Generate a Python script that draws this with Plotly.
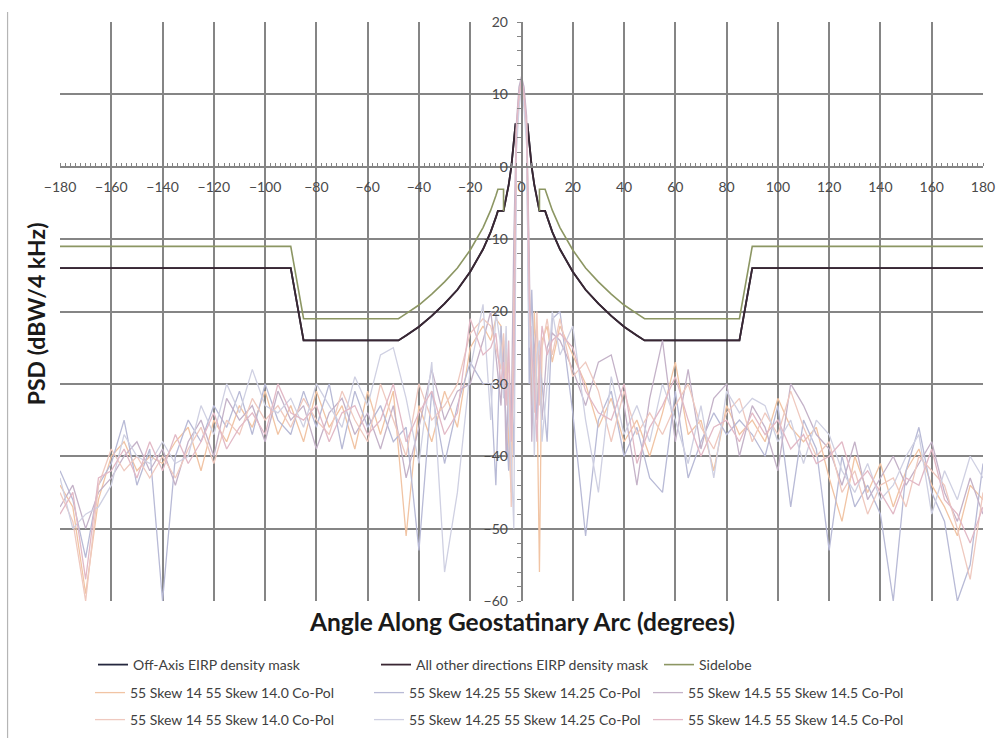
import plotly.graph_objects as go

# Angle grid (degrees along the geostationary arc) shared by the measured patterns
ANGLE = [-180, -175, -170, -165, -160, -155, -150, -145, -140, -135, -130, -125,
         -120, -115, -110, -105, -100, -95, -90, -85, -80, -75, -70, -65, -60,
         -55, -50, -45, -40, -35, -30, -25, -20, -15,
         -12, -10, -8, -7, -6, -5, -4, -3, -2, -1, 0, 1, 2, 3, 4, 5, 6, 7, 8, 10, 12,
         15, 20, 25, 30, 35, 40, 45, 50, 55, 60, 65, 70, 75, 80, 85, 90, 95, 100,
         105, 110, 115, 120, 125, 130, 135, 140, 145, 150, 155, 160, 165, 170, 175, 180]

# Measured PSD (dBW/4 kHz)
SKEW_140_A = [-44, -47, -59, -46, -40, -38, -42, -40, -41, -38, -36, -42, -35, -38, -33, -36, -31,
              -37, -33, -38, -31, -36, -33, -39, -31, -37, -31, -51, -33, -38, -31, -36, -25, -22,
              -24, -21, -22, -30, -25, -38, -45, -20, 5, 10, 12, 10, 6, -15, -33, -20, -30, -56, -24, -22, -27,
              -22, -26, -30, -36, -32, -38, -35, -40, -34, -27, -37, -35, -42, -33, -37, -35, -38,
              -32, -36, -38, -36, -43, -49, -40, -45, -41, -47, -42, -39, -44, -47, -51, -44, -46]
SKEW_1425_A = [-42, -46, -54, -44, -41, -35, -44, -39, -60, -40, -35, -38, -33, -36, -31, -37, -30,
               -35, -37, -31, -36, -30, -39, -31, -36, -33, -38, -36, -53, -31, -41, -33, -27, -30,
               -30, -44, -22, -28, -35, -42, -30, -40, 4, 9, 12, 9, 5, -30, -17, -28, -35, -26, -30, -38, -21,
               -20, -34, -51, -35, -31, -40, -36, -43, -45, -31, -43, -38, -34, -37, -35, -37, -40,
               -33, -47, -35, -39, -53, -40, -47, -44, -48, -60, -42, -36, -45, -49, -60, -55, -41]
SKEW_145_A = [-47, -44, -50, -45, -43, -40, -38, -42, -39, -44, -38, -35, -40, -32, -35, -33, -38,
              -31, -35, -33, -39, -34, -32, -37, -34, -39, -33, -43, -36, -28, -35, -31, -30, -24,
              -20, -26, -33, -24, -40, -30, -35, -10, 6, 11, 12.5, 11, 7, -12, -38, -25, -22, -30, -35, -25, -23,
              -24, -28, -33, -27, -26, -33, -44, -32, -24, -38, -28, -39, -32, -30, -40, -33, -36,
              -42, -30, -33, -37, -39, -44, -38, -46, -43, -40, -44, -41, -38, -45, -49, -43, -48]
SKEW_140_B = [-45, -49, -60, -44, -39, -42, -40, -43, -40, -43, -39, -36, -41, -35, -37, -32, -35,
              -33, -36, -32, -35, -37, -31, -35, -38, -30, -35, -40, -30, -35, -33, -30, -23, -21,
              -22, -25, -28, -23, -30, -27, -47, -22, 3, 9, 11.5, 9, 4, -20, -28, -34, -20, -33, -25, -21, -26,
              -21, -29, -27, -31, -38, -31, -37, -34, -37, -33, -30, -36, -39, -34, -32, -38, -34,
              -37, -31, -36, -40, -38, -45, -42, -48, -44, -43, -47, -40, -42, -44, -50, -57, -45]
SKEW_1425_B = [-43, -50, -48, -47, -44, -37, -40, -41, -38, -41, -40, -33, -37, -30, -34, -28, -33,
               -34, -32, -36, -30, -33, -36, -29, -33, -26, -25, -32, -41, -27, -56, -45, -28, -19,
               -35, -20, -25, -32, -22, -35, -40, -50, 2, 8, 11, 8, 3, -25, -22, -40, -26, -24, -38, -30, -20,
               -26, -22, -35, -45, -29, -37, -33, -38, -30, -35, -41, -33, -43, -31, -34, -32, -33,
               -38, -35, -41, -35, -37, -42, -45, -41, -46, -44, -40, -37, -48, -42, -46, -40, -43]
SKEW_145_B = [-48, -45, -57, -43, -42, -39, -43, -38, -42, -37, -41, -38, -34, -39, -36, -34, -37,
              -30, -34, -35, -33, -38, -34, -33, -37, -35, -30, -38, -34, -31, -37, -34, -21, -26,
              -25, -23, -30, -27, -33, -24, -38, -28, 5, 10, 12, 10, 6, -18, -26, -30, -38, -28, -22, -26, -24,
              -23, -25, -31, -34, -35, -30, -41, -36, -33, -29, -35, -40, -36, -35, -38, -34, -37,
              -35, -39, -37, -41, -40, -38, -44, -42, -45, -48, -43, -44, -39, -46, -48, -52, -47]

# EIRP density mask (off-axis and all other directions share the same limit)
MASK_ANGLE = [-180, -90, -85, -48, -45, -40, -35, -30, -25, -20, -15, -12, -10, -9.2, -7, -6, -5,
              -4, -3, -2.3, None, 2.3, 3, 4, 5, 6, 7, 9.2, 10, 12, 15, 20, 25, 30, 35, 40, 45, 48,
              85, 90, 180]
MASK_PSD = [-14, -14, -24, -24, -23.3, -22.1, -20.6, -18.9, -17.0, -14.5, -11.4, -9.0, -7.0, -6.1,
            -6.1, -4.5, -2.5, -0.1, 3.1, 6.0, None, 6.0, 3.1, -0.1, -2.5, -4.5, -6.1, -6.1, -7.0,
            -9.0, -11.4, -14.5, -17.0, -18.9, -20.6, -22.1, -23.3, -24, -24, -14, -14]

# Sidelobe envelope
SIDELOBE_ANGLE = [-180, -90, -85, -48, -45, -40, -35, -30, -25, -20, -15, -12, -10, -9.2, -7, -7,
                  None, 7, 7, 9.2, 10, 12, 15, 20, 25, 30, 35, 40, 45, 48, 85, 90, 180]
SIDELOBE_PSD = [-11, -11, -21, -21, -20.3, -19.1, -17.6, -15.9, -14.0, -11.5, -8.4, -6.0, -4.0,
                -3.1, -3.1, -6.1, None, -6.1, -3.1, -3.1, -4.0, -6.0, -8.4, -11.5, -14.0, -15.9,
                -17.6, -19.1, -20.3, -21, -21, -11, -11]

X_TICKS = [-180, -160, -140, -120, -100, -80, -60, -40, -20, 0, 20, 40, 60, 80, 100, 120, 140, 160, 180]
Y_TICKS = [20, 10, 0, -10, -20, -30, -40, -50, -60]

for s in (SKEW_140_A, SKEW_1425_A, SKEW_145_A, SKEW_140_B, SKEW_1425_B, SKEW_145_B):
    assert len(s) == len(ANGLE)

FONT = "Lato, 'Open Sans', sans-serif"
GRID = "#858585"

fig = go.Figure()

fig.add_trace(go.Scatter(x=MASK_ANGLE, y=MASK_PSD, mode="lines", name="Off-Axis EIRP density mask",
                         line=dict(color="#25283f", width=1.8), legend="legend"))
fig.add_trace(go.Scatter(x=MASK_ANGLE, y=MASK_PSD, mode="lines", name="All other directions EIRP density mask",
                         line=dict(color="#3a2733", width=1.8), legend="legend"))
fig.add_trace(go.Scatter(x=SIDELOBE_ANGLE, y=SIDELOBE_PSD, mode="lines", name="Sidelobe",
                         line=dict(color="#8c9663", width=1.6), legend="legend"))

patterns = [
    ("55 Skew 14 55 Skew 14.0 Co-Pol", SKEW_140_A, "#f1c4a4", "legend2"),
    ("55 Skew 14.25 55 Skew 14.25 Co-Pol", SKEW_1425_A, "#b8bad6", "legend2"),
    ("55 Skew 14.5 55 Skew 14.5 Co-Pol", SKEW_145_A, "#c4b2c8", "legend2"),
    ("55 Skew 14 55 Skew 14.0 Co-Pol", SKEW_140_B, "#efc9bf", "legend3"),
    ("55 Skew 14.25 55 Skew 14.25 Co-Pol", SKEW_1425_B, "#cfd0e2", "legend3"),
    ("55 Skew 14.5 55 Skew 14.5 Co-Pol", SKEW_145_B, "#e2b9c6", "legend3"),
]
for name, vals, color, lg in patterns:
    fig.add_trace(go.Scatter(x=ANGLE, y=vals, mode="lines", name=name,
                             line=dict(color=color, width=1.3), legend=lg))

W, H = 1007, 738
ML, MR, MT, MB = 60, 14, 22, 137

legend_common = dict(orientation="h", xref="container", yref="container",
                     xanchor="left", yanchor="middle", entrywidthmode="pixels",
                     font=dict(family=FONT, size=14, color="#404040"),
                     bgcolor="rgba(0,0,0,0)", borderwidth=0, itemwidth=30)

fig.update_layout(
    width=W, height=H,
    margin=dict(l=ML, r=MR, t=MT, b=MB),
    paper_bgcolor="white", plot_bgcolor="white",
    font=dict(family=FONT, color="#404040"),
    showlegend=True,
    legend=dict(**legend_common, x=93 / W, y=1 - 665 / H, entrywidth=238),
    legend2=dict(**legend_common, x=90 / W, y=1 - 693 / H, entrywidth=234),
    legend3=dict(**legend_common, x=90 / W, y=1 - 720 / H, entrywidth=234),
    xaxis=dict(range=[-180, 180], tickmode="array", tickvals=X_TICKS,
               anchor="free", position=0.75, side="bottom",
               showgrid=True, gridcolor=GRID, gridwidth=1.6,
               showline=True, linecolor=GRID, linewidth=1.6,
               zeroline=False, ticks="", ticklabelstandoff=8,
               tickfont=dict(family=FONT, size=14, color="#4a4a4a"),
               minor=dict(dtick=2, ticks="inside", ticklen=3, tickcolor=GRID, showgrid=False)),
    yaxis=dict(range=[-60, 20], tickmode="array", tickvals=Y_TICKS,
               anchor="free", position=0.5, side="left",
               showgrid=True, gridcolor=GRID, gridwidth=1.6,
               showline=True, linecolor=GRID, linewidth=1.6,
               zeroline=False, ticks="", ticklabelstandoff=10,
               tickfont=dict(family=FONT, size=14, color="#4a4a4a"),
               minor=dict(dtick=2, ticks="outside", ticklen=4, tickcolor=GRID, showgrid=False)),
)

# Axis titles
fig.add_annotation(text="<b>Angle Along Geostatinary Arc (degrees)</b>", xref="paper", yref="paper",
                   x=(527 - ML) / (W - ML - MR), y=(H - MB - 621) / (H - MT - MB),
                   showarrow=False, xanchor="center", yanchor="middle",
                   font=dict(family=FONT, size=24.5, color="#1a1a1a"))
fig.add_annotation(text="<b>PSD (dBW/4 kHz)</b>", xref="paper", yref="paper",
                   x=(36 - ML) / (W - ML - MR), y=(H - MB - 314) / (H - MT - MB),
                   showarrow=False, xanchor="center", yanchor="middle", textangle=-90,
                   font=dict(family=FONT, size=23, color="#1a1a1a"))

# Outer chart frame edge on the left
fig.add_shape(type="line", xref="paper", yref="paper",
              x0=(7 - ML) / (W - ML - MR), x1=(7 - ML) / (W - ML - MR),
              y0=(H - MB - 12) / (H - MT - MB), y1=(H - MB - H) / (H - MT - MB),
              line=dict(color="#b5b5b5", width=1.2))

fig.write_html("out.html")
